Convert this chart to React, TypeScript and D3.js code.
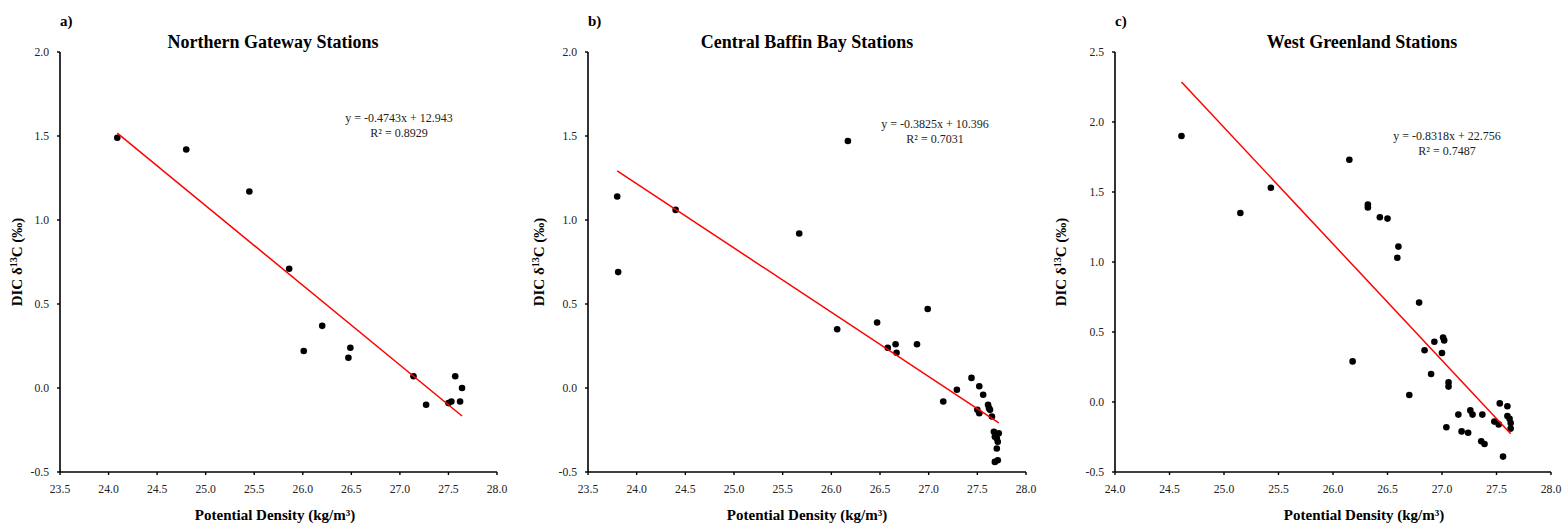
import React from "react";
import * as d3 from "d3";

// ---------- data ----------
const aDensity = [24.09, 24.80, 25.45, 25.86, 26.01, 26.20, 26.47, 26.49, 27.14, 27.27, 27.50, 27.53, 27.57, 27.62, 27.64];
const aDelta = [1.49, 1.42, 1.17, 0.71, 0.22, 0.37, 0.18, 0.24, 0.07, -0.10, -0.09, -0.08, 0.07, -0.08, 0.00];

const bDensity = [23.80, 23.81, 24.40, 25.67, 26.17, 26.06, 26.47, 26.58, 26.66, 26.67, 26.88, 26.99, 27.15, 27.29, 27.44, 27.52, 27.56, 27.50, 27.52, 27.61, 27.62, 27.63, 27.65, 27.67, 27.68, 27.70, 27.71, 27.72, 27.70, 27.68, 27.71];
const bDelta = [1.14, 0.69, 1.06, 0.92, 1.47, 0.35, 0.39, 0.24, 0.26, 0.21, 0.26, 0.47, -0.08, -0.01, 0.06, 0.01, -0.04, -0.13, -0.15, -0.10, -0.12, -0.13, -0.17, -0.26, -0.29, -0.30, -0.32, -0.27, -0.36, -0.44, -0.43];

const cDensity = [24.61, 25.15, 25.43, 26.15, 26.18, 26.32, 26.32, 26.43, 26.50, 26.60, 26.59, 26.70, 26.79, 26.84, 26.90, 26.93, 27.00, 27.01, 27.02, 27.04, 27.06, 27.06, 27.15, 27.18, 27.24, 27.26, 27.28, 27.37, 27.36, 27.39, 27.48, 27.52, 27.53, 27.56, 27.60, 27.60, 27.62, 27.63, 27.63];
const cDelta = [1.90, 1.35, 1.53, 1.73, 0.29, 1.41, 1.39, 1.32, 1.31, 1.11, 1.03, 0.05, 0.71, 0.37, 0.20, 0.43, 0.35, 0.46, 0.44, -0.18, 0.14, 0.11, -0.09, -0.21, -0.22, -0.06, -0.09, -0.09, -0.28, -0.30, -0.14, -0.16, -0.01, -0.39, -0.03, -0.10, -0.12, -0.15, -0.19];

const panelLetters = ["a)", "b)", "c)"];
const panelTitles = ["Northern Gateway Stations", "Central Baffin Bay Stations", "West Greenland Stations"];
const slopes = [-0.4743, -0.3825, -0.8318];
const intercepts = [12.943, 10.396, 22.756];
const equationLabels = ["y = -0.4743x + 12.943", "y = -0.3825x + 10.396", "y = -0.8318x + 22.756"];
const r2Labels = ["R² = 0.8929", "R² = 0.7031", "R² = 0.7487"];

const xTicksAB = [23.5, 24.0, 24.5, 25.0, 25.5, 26.0, 26.5, 27.0, 27.5, 28.0];
const xTicksC = [24.0, 24.5, 25.0, 25.5, 26.0, 26.5, 27.0, 27.5, 28.0];
const yTicksAB = [-0.5, 0.0, 0.5, 1.0, 1.5, 2.0];
const yTicksC = [-0.5, 0.0, 0.5, 1.0, 1.5, 2.0, 2.5];

const xLabel = "Potential Density (kg/m³)";

// ---------- layout ----------
const FONT = "'Liberation Serif', 'Times New Roman', serif";
const TOP = 52;
const BOTTOM = 472;

type PanelCfg = {
  idx: number;
  left: number;
  right: number;
  xs: number[];
  ys: number[];
  xTicks: number[];
  yTicks: number[];
  titleX: number;
  xLabelX: number;
  yLabelX: number;
  eqX: number;
  eqY: number;
};

const panels: PanelCfg[] = [
  { idx: 0, left: 60, right: 497, xs: aDensity, ys: aDelta, xTicks: xTicksAB, yTicks: yTicksAB, titleX: 273, xLabelX: 275, yLabelX: 17, eqX: 399, eqY: 122 },
  { idx: 1, left: 588, right: 1026, xs: bDensity, ys: bDelta, xTicks: xTicksAB, yTicks: yTicksAB, titleX: 807, xLabelX: 807, yLabelX: 539, eqX: 935, eqY: 128 },
  { idx: 2, left: 1115, right: 1551, xs: cDensity, ys: cDelta, xTicks: xTicksC, yTicks: yTicksC, titleX: 1362, xLabelX: 1364, yLabelX: 1061, eqX: 1447, eqY: 140 },
];

function Panel({ cfg }: { cfg: PanelCfg }) {
  const { idx, left, right, xs, ys, xTicks, yTicks } = cfg;
  const x = d3.scaleLinear().domain([xTicks[0], xTicks[xTicks.length - 1]]).range([left, right]);
  const y = d3.scaleLinear().domain([yTicks[0], yTicks[yTicks.length - 1]]).range([BOTTOM, TOP]);
  const [xmin, xmax] = d3.extent(xs) as [number, number];
  const fit = (v: number) => slopes[idx] * v + intercepts[idx];
  const line = d3
    .line<number>()
    .x((d) => x(d))
    .y((d) => y(fit(d)));
  const yMid = (TOP + BOTTOM) / 2;
  return (
    <g>
      <text x={left} y={26} fontFamily={FONT} fontWeight="bold" fontSize={15}>
        {panelLetters[idx]}
      </text>
      <text x={cfg.titleX} y={48} textAnchor="middle" fontFamily={FONT} fontWeight="bold" fontSize={18}>
        {panelTitles[idx]}
      </text>
      {/* y axis */}
      <line x1={left} x2={left} y1={TOP} y2={BOTTOM} stroke="#000" strokeWidth={1.6} />
      {yTicks.map((t) => (
        <g key={"y" + t}>
          <line x1={left - 3} x2={left} y1={y(t)} y2={y(t)} stroke="#000" strokeWidth={1.4} />
          <text x={left - 11} y={y(t) + 4} textAnchor="end" fontFamily={FONT} fontSize={11.7} fill="#222">
            {t.toFixed(1)}
          </text>
        </g>
      ))}
      {/* x axis */}
      <line x1={left} x2={right} y1={BOTTOM} y2={BOTTOM} stroke="#000" strokeWidth={1.6} />
      {xTicks.map((t) => (
        <g key={"x" + t}>
          <line x1={x(t)} x2={x(t)} y1={BOTTOM} y2={BOTTOM + 3} stroke="#000" strokeWidth={1.4} />
          <text x={x(t)} y={BOTTOM + 21} textAnchor="middle" fontFamily={FONT} fontSize={11.7} fill="#222">
            {t.toFixed(1)}
          </text>
        </g>
      ))}
      <text x={cfg.xLabelX} y={520} textAnchor="middle" fontFamily={FONT} fontWeight="bold" fontSize={15}>
        {xLabel}
      </text>
      <text
        transform={`translate(${cfg.yLabelX + 5},${yMid}) rotate(-90)`}
        textAnchor="middle"
        fontFamily={FONT}
        fontWeight="bold"
        fontSize={15}
      >
        DIC δ
        <tspan fontSize={10} dy={-5}>13</tspan>
        <tspan dy={5}>C (‰)</tspan>
      </text>
      {/* points */}
      {xs.map((v, i) => (
        <circle key={i} cx={x(v)} cy={y(ys[i])} r={3.3} fill="#000" />
      ))}
      {/* regression */}
      <path d={line([xmin, xmax]) || ""} stroke="#ff0000" strokeWidth={1.5} fill="none" />
      <text x={cfg.eqX} y={cfg.eqY} textAnchor="middle" fontFamily={FONT} fontSize={12} fill="#222">
        {equationLabels[idx]}
      </text>
      <text x={cfg.eqX} y={cfg.eqY + 14.5} textAnchor="middle" fontFamily={FONT} fontSize={12} fill="#222">
        {r2Labels[idx]}
      </text>
    </g>
  );
}

export default function App() {
  return (
    <svg
      width={1565}
      height={527}
      style={{ position: "absolute", left: 0, top: 0, background: "#fff" }}
    >
      <rect x={0} y={0} width={1565} height={527} fill="#fff" />
      {panels.map((p) => (
        <Panel key={p.idx} cfg={p} />
      ))}
    </svg>
  );
}
